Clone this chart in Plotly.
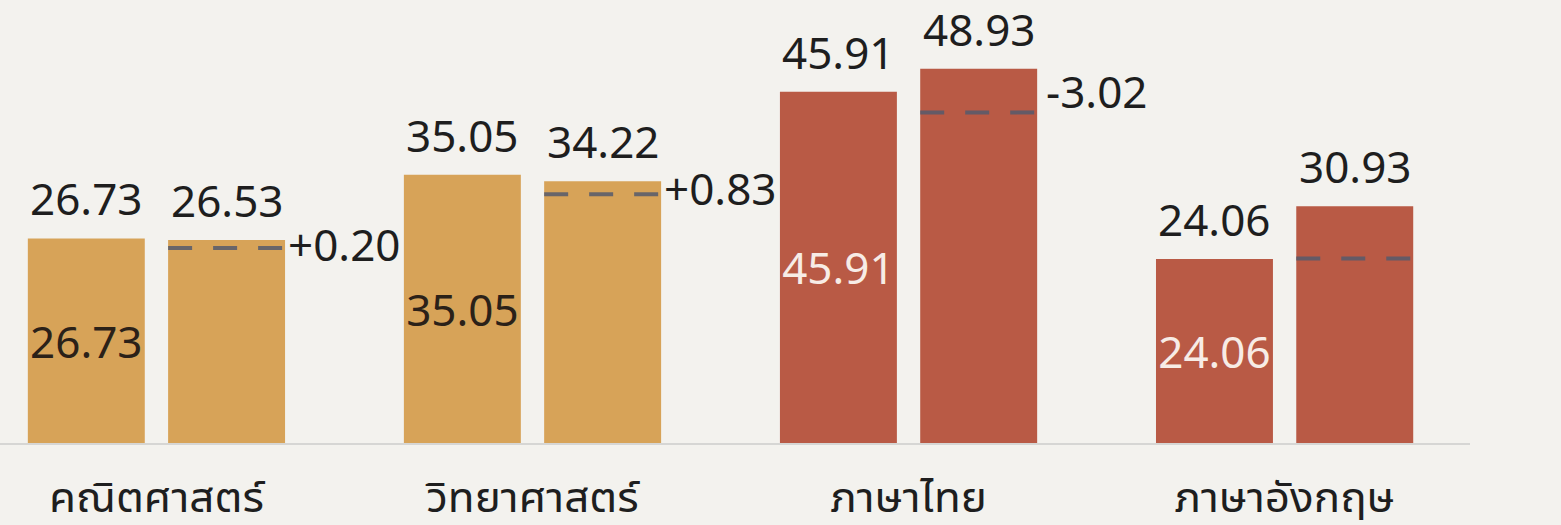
import plotly.graph_objects as go

# ---- data ----
categories = ["คณิตศาสตร์", "วิทยาศาสตร์", "ภาษาไทย", "ภาษาอังกฤษ"]
score_a = [26.73, 35.05, 45.91, 24.06]   # first bar of each pair
score_b = [26.53, 34.22, 48.93, 30.93]   # second bar of each pair
ref_line = [25.5, 32.5, 43.2, 24.1]      # dashed reference level drawn on second bar
group_colors = ["#D7A358", "#D7A358", "#B95A45", "#B95A45"]
inner_text_colors = ["#2B2118", "#2B2118", "#F7ECE6", "#F7ECE6"]

# ---- style ----
FONT = "Noto Sans Thai UI, Noto Sans Thai, Noto Sans, Open Sans, sans-serif"
FS = 44
BG = "#F3F2EE"
W = 0.311            # bar width (axis units)
OFF_A = -0.342       # offset of first bar
OFF_B = 0.031        # offset of second bar
DIFF_SHIFT = 0.313   # horizontal shift of difference label from 2nd bar centre

xs = list(range(len(categories)))
labels_a = [f"{v:.2f}" for v in score_a]
labels_b = [f"{v:.2f}" for v in score_b]
diffs = [a - b for a, b in zip(score_a, score_b)]
diff_labels = [f"{d:+.2f}" for d in diffs]

fig = go.Figure()

fig.add_trace(go.Bar(
    x=xs, y=score_a, width=W, offset=OFF_A,
    marker=dict(color=group_colors, line=dict(width=0)),
    text=labels_a, textposition="inside", insidetextanchor="middle",
    constraintext="none", textangle=0,
    textfont=dict(family=FONT, size=FS, color=inner_text_colors),
    hoverinfo="skip", showlegend=False,
))
fig.add_trace(go.Bar(
    x=xs, y=score_b, width=W, offset=OFF_B,
    marker=dict(color=group_colors, line=dict(width=0)),
    hoverinfo="skip", showlegend=False,
))

# dashed reference lines on the second bar
for i, r in enumerate(ref_line):
    fig.add_trace(go.Scatter(
        x=[i + OFF_B, i + OFF_B + W], y=[r, r], mode="lines",
        line=dict(color="rgba(85,90,108,0.85)", width=4, dash="24px,21px"),
        hoverinfo="skip", showlegend=False,
    ))

annotations = []
for i in xs:
    ca = i + OFF_A + W / 2
    cb = i + OFF_B + W / 2
    annotations.append(dict(x=ca, y=score_a[i], xref="x", yref="y",
                            text=labels_a[i], showarrow=False,
                            yanchor="middle", yshift=40,
                            font=dict(family=FONT, size=FS, color="#1E1E1E")))
    annotations.append(dict(x=cb, y=score_b[i], xref="x", yref="y",
                            text=labels_b[i], showarrow=False,
                            yanchor="middle", yshift=40,
                            font=dict(family=FONT, size=FS, color="#1E1E1E")))
    annotations.append(dict(x=cb + DIFF_SHIFT, y=(score_b[i] + ref_line[i]) / 2,
                            xref="x", yref="y", text=diff_labels[i],
                            showarrow=False, xanchor="center", yanchor="middle",
                            font=dict(family=FONT, size=FS, color="#1E1E1E")))

fig.update_layout(
    width=1561, height=525,
    margin=dict(l=0, r=91, t=0, b=82),
    paper_bgcolor=BG, plot_bgcolor=BG,
    barmode="overlay",
    annotations=annotations,
    xaxis=dict(range=[-0.416, 3.493], tickmode="array", tickvals=xs,
               ticktext=categories, showgrid=False, zeroline=False,
               showline=True, linecolor="#D6D6D4", linewidth=2,
               ticks="", ticklabelstandoff=14,
               tickfont=dict(family=FONT, size=FS, color="#1E1E1E")),
    yaxis=dict(range=[0, 57.9], visible=False, showgrid=False, zeroline=False),
)

fig.write_html(
    "out.html",
    config={"displayModeBar": False},
    post_script="document.body.style.margin='0';document.body.style.background='#F3F2EE';",
)
